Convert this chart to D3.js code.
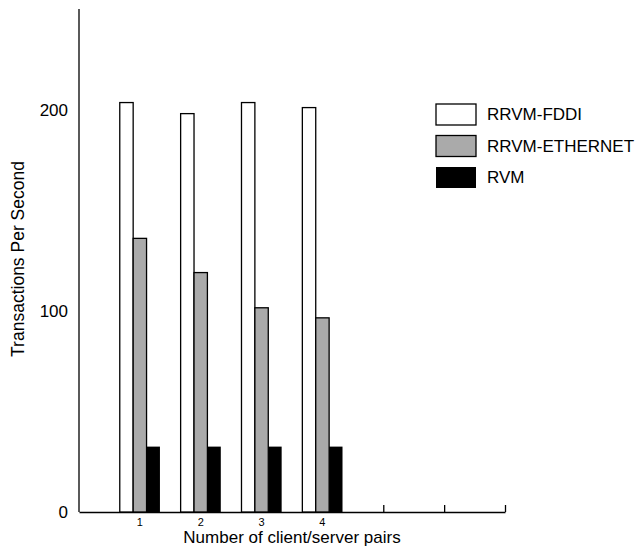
<!DOCTYPE html>
<head>
  <meta charset="UTF-8">
  <style>
    body { margin: 0; background: #fff; }
    svg { display: block; font-family: "Liberation Sans", Arial, sans-serif; }
  </style>
</head>
<body>
<script src="https://d3js.org/d3.v7.min.js"></script>
<div id="chart"></div>
<script>
  // data
  var pairs = [1, 2, 3, 4];
  var seriesNames = ["RRVM-FDDI", "RRVM-ETHERNET", "RVM"];
  var fddi = [203.5, 198, 203.5, 201];
  var ethernet = [136, 119, 101.5, 96.5];
  var rvm = [32.5, 32.5, 32.5, 32.5];
  var yTicks = [0, 100, 200];
  var xTicks = [1, 2, 3, 4, 5, 6, 7];
  var xTickLabels = ["1", "2", "3", "4", "", "", ""];

  var width = 637, height = 550;
  var colors = ["#ffffff", "#aaaaaa", "#000000"];
  var series = [fddi, ethernet, rvm];

  var svg = d3.select("#chart").append("svg")
    .attr("width", width)
    .attr("height", height);

  var x = d3.scaleLinear().domain([0, 7]).range([79, 505]);
  var y = d3.scaleLinear().domain([0, 250]).range([512, 9]);

  var bw = (x(1) - x(0)) * 0.22;

  // y axis: line + labels only
  svg.append("line")
    .attr("x1", x(0)).attr("x2", x(0))
    .attr("y1", y(250)).attr("y2", y(0))
    .attr("stroke", "#000").attr("stroke-width", 1.3);

  svg.selectAll(".ylab")
    .data(yTicks)
    .join("text")
    .attr("class", "ylab")
    .attr("x", 68)
    .attr("y", d => y(d))
    .attr("dy", "0.35em")
    .attr("text-anchor", "end")
    .attr("font-size", 17)
    .text(d => d);

  // x axis with inward ticks
  var xAxis = d3.axisTop(x)
    .tickValues(xTicks)
    .tickSize(7)
    .tickSizeOuter(0)
    .tickFormat("");
  var gx = svg.append("g")
    .attr("transform", "translate(0," + y(0) + ")")
    .call(xAxis);
  gx.select(".domain").attr("stroke-width", 1.3);
  gx.selectAll(".tick line").attr("stroke-width", 1.3);

  svg.selectAll(".xlab")
    .data(xTicks)
    .join("text")
    .attr("class", "xlab")
    .attr("x", d => x(d))
    .attr("y", y(0) + 10)
    .attr("dy", "0.35em")
    .attr("text-anchor", "middle")
    .attr("font-size", 11)
    .text((d, i) => xTickLabels[i]);

  // bars
  series.forEach(function(vals, s) {
    svg.selectAll(".bar" + s)
      .data(vals)
      .join("rect")
      .attr("class", "bar" + s)
      .attr("x", (d, i) => x(pairs[i]) + (s - 1.5) * bw)
      .attr("y", d => y(d))
      .attr("width", bw)
      .attr("height", d => y(0) - y(d))
      .attr("fill", colors[s])
      .attr("stroke", "#000")
      .attr("stroke-width", s == 2 ? 0 : 1.3);
  });

  // axis titles
  svg.append("text")
    .attr("x", (x(0) + x(7)) / 2)
    .attr("y", 537)
    .attr("dy", "0.35em")
    .attr("text-anchor", "middle")
    .attr("font-size", 17)
    .text("Number of client/server pairs");

  svg.append("text")
    .attr("transform", "translate(18,259) rotate(-90)")
    .attr("dy", "0.35em")
    .attr("text-anchor", "middle")
    .attr("font-size", 17.5)
    .text("Transactions Per Second");

  // legend
  var legendY = [104, 135.5, 167];
  var leg = svg.selectAll(".leg")
    .data(seriesNames)
    .join("g")
    .attr("class", "leg")
    .attr("transform", (d, i) => "translate(436," + legendY[i] + ")");

  leg.append("rect")
    .attr("width", 40)
    .attr("height", 21)
    .attr("fill", (d, i) => colors[i])
    .attr("stroke", "#000")
    .attr("stroke-width", (d, i) => i == 2 ? 0 : 1.3);

  leg.append("text")
    .attr("x", 51)
    .attr("y", 10.5)
    .attr("dy", "0.35em")
    .attr("font-size", 17)
    .text(d => d);
</script>
</body>
</html>
